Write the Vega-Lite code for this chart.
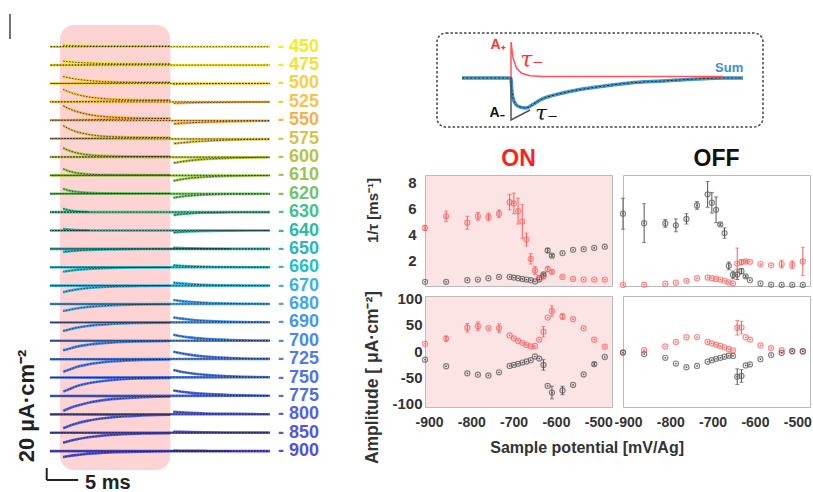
{
"$schema": "https://vega.github.io/schema/vega-lite/v6.json",
"padding": 0,
"background": "white",
"bounds": "flush",
"spacing": 105,
"resolve": {"scale": {"color": "independent"}},
"config": {"font": "Liberation Sans", "view": {"stroke": null},
  "axis": {"grid": false, "domain": false, "ticks": false, "labelOverlap": false, "labelFontSize": 14, "labelFontWeight": "bold", "labelColor": "#333", "titleFontSize": 16, "titleFontWeight": "bold", "titleColor": "#333", "labelExpr": "replace(datum.label, '−', '-')"}},
"datasets": {
"traces": [
{"mV":450,"t":-1.6,"i":0},{"mV":450,"t":0,"i":0},{"mV":450,"t":0.5,"i":2.5},{"mV":450,"t":1.2,"i":2.2},{"mV":450,"t":2.5,"i":1.7},{"mV":450,"t":4.5,"i":1.3},{"mV":450,"t":8,"i":1.0},{"mV":450,"t":13,"i":0.9},{"mV":450,"t":17.5,"i":0.8},{"mV":450,"t":18,"i":0},{"mV":450,"t":19,"i":0},{"mV":450,"t":20.5,"i":0},{"mV":450,"t":23,"i":0},{"mV":450,"t":27,"i":0},{"mV":450,"t":33.3,"i":0},
{"mV":475,"t":-1.6,"i":0},{"mV":475,"t":0,"i":0},{"mV":475,"t":0.5,"i":6.7},{"mV":475,"t":1.2,"i":5.9},{"mV":475,"t":2.5,"i":4.7},{"mV":475,"t":4.5,"i":3.5},{"mV":475,"t":8,"i":2.4},{"mV":475,"t":13,"i":1.9},{"mV":475,"t":17.5,"i":1.7},{"mV":475,"t":18,"i":0},{"mV":475,"t":19,"i":0},{"mV":475,"t":20.5,"i":0},{"mV":475,"t":23,"i":0},{"mV":475,"t":27,"i":0},{"mV":475,"t":33.3,"i":0},
{"mV":500,"t":-1.6,"i":0},{"mV":500,"t":0,"i":0},{"mV":500,"t":0.5,"i":11.7},{"mV":500,"t":1.2,"i":9.9},{"mV":500,"t":2.5,"i":7.3},{"mV":500,"t":4.5,"i":4.9},{"mV":500,"t":8,"i":2.8},{"mV":500,"t":13,"i":2.0},{"mV":500,"t":17.5,"i":1.8},{"mV":500,"t":18,"i":-1.2},{"mV":500,"t":19,"i":-0.9},{"mV":500,"t":20.5,"i":-0.6},{"mV":500,"t":23,"i":-0.3},{"mV":500,"t":27,"i":-0.1},{"mV":500,"t":33.3,"i":0},
{"mV":525,"t":-1.6,"i":0},{"mV":525,"t":0,"i":0},{"mV":525,"t":0.5,"i":20.8},{"mV":525,"t":1.2,"i":17.5},{"mV":525,"t":2.5,"i":12.8},{"mV":525,"t":4.5,"i":8.3},{"mV":525,"t":8,"i":4.6},{"mV":525,"t":13,"i":3.0},{"mV":525,"t":17.5,"i":2.7},{"mV":525,"t":18,"i":-2.5},{"mV":525,"t":19,"i":-2.1},{"mV":525,"t":20.5,"i":-1.6},{"mV":525,"t":23,"i":-1.1},{"mV":525,"t":27,"i":-0.6},{"mV":525,"t":33.3,"i":-0.2},
{"mV":550,"t":-1.6,"i":0},{"mV":550,"t":0,"i":0},{"mV":550,"t":0.5,"i":24.2},{"mV":550,"t":1.2,"i":20.3},{"mV":550,"t":2.5,"i":14.9},{"mV":550,"t":4.5,"i":9.6},{"mV":550,"t":8,"i":5.3},{"mV":550,"t":13,"i":3.4},{"mV":550,"t":17.5,"i":3.0},{"mV":550,"t":18,"i":-5.8},{"mV":550,"t":19,"i":-5.2},{"mV":550,"t":20.5,"i":-4.3},{"mV":550,"t":23,"i":-3.1},{"mV":550,"t":27,"i":-1.9},{"mV":550,"t":33.3,"i":-0.9},
{"mV":575,"t":-1.6,"i":0},{"mV":575,"t":0,"i":0},{"mV":575,"t":0.5,"i":21.7},{"mV":575,"t":1.2,"i":17.5},{"mV":575,"t":2.5,"i":11.9},{"mV":575,"t":4.5,"i":7.0},{"mV":575,"t":8,"i":3.3},{"mV":575,"t":13,"i":2.0},{"mV":575,"t":17.5,"i":1.7},{"mV":575,"t":18,"i":-8.3},{"mV":575,"t":19,"i":-7.2},{"mV":575,"t":20.5,"i":-5.8},{"mV":575,"t":23,"i":-4.1},{"mV":575,"t":27,"i":-2.3},{"mV":575,"t":33.3,"i":-0.9},
{"mV":600,"t":-1.6,"i":0},{"mV":600,"t":0,"i":0},{"mV":600,"t":0.5,"i":15},{"mV":600,"t":1.2,"i":11.6},{"mV":600,"t":2.5,"i":7.2},{"mV":600,"t":4.5,"i":3.7},{"mV":600,"t":8,"i":1.5},{"mV":600,"t":13,"i":0.9},{"mV":600,"t":17.5,"i":0.9},{"mV":600,"t":18,"i":-10},{"mV":600,"t":19,"i":-8.2},{"mV":600,"t":20.5,"i":-6.1},{"mV":600,"t":23,"i":-3.7},{"mV":600,"t":27,"i":-1.7},{"mV":600,"t":33.3,"i":-0.5},
{"mV":610,"t":-1.6,"i":0},{"mV":610,"t":0,"i":0},{"mV":610,"t":0.5,"i":10.8},{"mV":610,"t":1.2,"i":7.8},{"mV":610,"t":2.5,"i":4.3},{"mV":610,"t":4.5,"i":1.9},{"mV":610,"t":8,"i":0.8},{"mV":610,"t":13,"i":0.5},{"mV":610,"t":17.5,"i":0.5},{"mV":610,"t":18,"i":-9.2},{"mV":610,"t":19,"i":-7.1},{"mV":610,"t":20.5,"i":-4.9},{"mV":610,"t":23,"i":-2.6},{"mV":610,"t":27,"i":-1.0},{"mV":610,"t":33.3,"i":-0.2},
{"mV":620,"t":-1.6,"i":0},{"mV":620,"t":0,"i":0},{"mV":620,"t":0.5,"i":8.3},{"mV":620,"t":1.2,"i":6.0},{"mV":620,"t":2.5,"i":3.4},{"mV":620,"t":4.5,"i":1.6},{"mV":620,"t":8,"i":0.7},{"mV":620,"t":13,"i":0.5},{"mV":620,"t":17.5,"i":0.5},{"mV":620,"t":18,"i":-6.7},{"mV":620,"t":19,"i":-5.0},{"mV":620,"t":20.5,"i":-3.3},{"mV":620,"t":23,"i":-1.6},{"mV":620,"t":27,"i":-0.5},{"mV":620,"t":33.3,"i":-0.1},
{"mV":630,"t":-1.6,"i":0},{"mV":630,"t":0,"i":0},{"mV":630,"t":0.5,"i":5.8},{"mV":630,"t":1.2,"i":3.7},{"mV":630,"t":2.5,"i":1.5},{"mV":630,"t":4.5,"i":0.4},{"mV":630,"t":8,"i":0},{"mV":630,"t":13,"i":0},{"mV":630,"t":17.5,"i":0},{"mV":630,"t":18,"i":-5},{"mV":630,"t":19,"i":-3.6},{"mV":630,"t":20.5,"i":-2.2},{"mV":630,"t":23,"i":-0.9},{"mV":630,"t":27,"i":-0.3},{"mV":630,"t":33.3,"i":0},
{"mV":640,"t":-1.6,"i":0},{"mV":640,"t":0,"i":0},{"mV":640,"t":0.5,"i":2.5},{"mV":640,"t":1.2,"i":1.6},{"mV":640,"t":2.5,"i":0.7},{"mV":640,"t":4.5,"i":0.2},{"mV":640,"t":8,"i":0},{"mV":640,"t":13,"i":0},{"mV":640,"t":17.5,"i":0},{"mV":640,"t":18,"i":-3.3},{"mV":640,"t":19,"i":-2.4},{"mV":640,"t":20.5,"i":-1.5},{"mV":640,"t":23,"i":-0.6},{"mV":640,"t":27,"i":-0.2},{"mV":640,"t":33.3,"i":0},
{"mV":650,"t":-1.6,"i":0},{"mV":650,"t":0,"i":0},{"mV":650,"t":0.5,"i":-5},{"mV":650,"t":1.2,"i":-4.2},{"mV":650,"t":2.5,"i":-3.0},{"mV":650,"t":4.5,"i":-1.8},{"mV":650,"t":8,"i":-0.8},{"mV":650,"t":13,"i":-0.2},{"mV":650,"t":17.5,"i":-0.1},{"mV":650,"t":18,"i":1.7},{"mV":650,"t":19,"i":1.3},{"mV":650,"t":20.5,"i":0.9},{"mV":650,"t":23,"i":0.5},{"mV":650,"t":27,"i":0.2},{"mV":650,"t":33.3,"i":0},
{"mV":660,"t":-1.6,"i":0},{"mV":660,"t":0,"i":0},{"mV":660,"t":0.5,"i":-7.5},{"mV":660,"t":1.2,"i":-6.3},{"mV":660,"t":2.5,"i":-4.6},{"mV":660,"t":4.5,"i":-2.8},{"mV":660,"t":8,"i":-1.1},{"mV":660,"t":13,"i":-0.3},{"mV":660,"t":17.5,"i":-0.1},{"mV":660,"t":18,"i":3.3},{"mV":660,"t":19,"i":2.6},{"mV":660,"t":20.5,"i":1.8},{"mV":660,"t":23,"i":1.0},{"mV":660,"t":27,"i":0.4},{"mV":660,"t":33.3,"i":0.1},
{"mV":670,"t":-1.6,"i":0},{"mV":670,"t":0,"i":0},{"mV":670,"t":0.5,"i":-10.8},{"mV":670,"t":1.2,"i":-9.1},{"mV":670,"t":2.5,"i":-6.6},{"mV":670,"t":4.5,"i":-4.0},{"mV":670,"t":8,"i":-1.7},{"mV":670,"t":13,"i":-0.5},{"mV":670,"t":17.5,"i":-0.2},{"mV":670,"t":18,"i":5},{"mV":670,"t":19,"i":3.9},{"mV":670,"t":20.5,"i":2.7},{"mV":670,"t":23,"i":1.4},{"mV":670,"t":27,"i":0.5},{"mV":670,"t":33.3,"i":0.1},
{"mV":680,"t":-1.6,"i":0},{"mV":680,"t":0,"i":0},{"mV":680,"t":0.5,"i":-11.7},{"mV":680,"t":1.2,"i":-10.3},{"mV":680,"t":2.5,"i":-7.5},{"mV":680,"t":4.5,"i":-4.8},{"mV":680,"t":8,"i":-2.2},{"mV":680,"t":13,"i":-0.7},{"mV":680,"t":17.5,"i":-0.3},{"mV":680,"t":18,"i":6.7},{"mV":680,"t":19,"i":5.3},{"mV":680,"t":20.5,"i":3.8},{"mV":680,"t":23,"i":2.2},{"mV":680,"t":27,"i":0.9},{"mV":680,"t":33.3,"i":0.2},
{"mV":690,"t":-1.6,"i":0},{"mV":690,"t":0,"i":0},{"mV":690,"t":0.5,"i":-14.2},{"mV":690,"t":1.2,"i":-12.5},{"mV":690,"t":2.5,"i":-9.1},{"mV":690,"t":4.5,"i":-5.8},{"mV":690,"t":8,"i":-2.7},{"mV":690,"t":13,"i":-0.9},{"mV":690,"t":17.5,"i":-0.3},{"mV":690,"t":18,"i":8.3},{"mV":690,"t":19,"i":6.7},{"mV":690,"t":20.5,"i":4.8},{"mV":690,"t":23,"i":2.7},{"mV":690,"t":27,"i":1.1},{"mV":690,"t":33.3,"i":0.3},
{"mV":700,"t":-1.6,"i":0},{"mV":700,"t":0,"i":0},{"mV":700,"t":0.5,"i":-15.8},{"mV":700,"t":1.2,"i":-13.9},{"mV":700,"t":2.5,"i":-10.1},{"mV":700,"t":4.5,"i":-6.5},{"mV":700,"t":8,"i":-3.0},{"mV":700,"t":13,"i":-1.0},{"mV":700,"t":17.5,"i":-0.4},{"mV":700,"t":18,"i":10},{"mV":700,"t":19,"i":8},{"mV":700,"t":20.5,"i":5.7},{"mV":700,"t":23,"i":3.3},{"mV":700,"t":27,"i":1.4},{"mV":700,"t":33.3,"i":0.3},
{"mV":725,"t":-1.6,"i":0},{"mV":725,"t":0,"i":0},{"mV":725,"t":0.5,"i":-20.8},{"mV":725,"t":1.2,"i":-18.3},{"mV":725,"t":2.5,"i":-13.3},{"mV":725,"t":4.5,"i":-8.6},{"mV":725,"t":8,"i":-3.9},{"mV":725,"t":13,"i":-1.3},{"mV":725,"t":17.5,"i":-0.5},{"mV":725,"t":18,"i":12.5},{"mV":725,"t":19,"i":10.2},{"mV":725,"t":20.5,"i":7.6},{"mV":725,"t":23,"i":4.6},{"mV":725,"t":27,"i":2.1},{"mV":725,"t":33.3,"i":0.6},
{"mV":750,"t":-1.6,"i":0},{"mV":750,"t":0,"i":0},{"mV":750,"t":0.5,"i":-23.3},{"mV":750,"t":1.2,"i":-20.5},{"mV":750,"t":2.5,"i":-14.9},{"mV":750,"t":4.5,"i":-9.6},{"mV":750,"t":8,"i":-4.4},{"mV":750,"t":13,"i":-1.4},{"mV":750,"t":17.5,"i":-0.5},{"mV":750,"t":18,"i":12.5},{"mV":750,"t":19,"i":10.2},{"mV":750,"t":20.5,"i":7.6},{"mV":750,"t":23,"i":4.6},{"mV":750,"t":27,"i":2.1},{"mV":750,"t":33.3,"i":0.6},
{"mV":775,"t":-1.6,"i":0},{"mV":775,"t":0,"i":0},{"mV":775,"t":0.5,"i":-25},{"mV":775,"t":1.2,"i":-21.7},{"mV":775,"t":2.5,"i":-16.8},{"mV":775,"t":4.5,"i":-11.2},{"mV":775,"t":8,"i":-5.6},{"mV":775,"t":13,"i":-2.1},{"mV":775,"t":17.5,"i":-0.8},{"mV":775,"t":18,"i":9.2},{"mV":775,"t":19,"i":7.5},{"mV":775,"t":20.5,"i":5.6},{"mV":775,"t":23,"i":3.4},{"mV":775,"t":27,"i":1.5},{"mV":775,"t":33.3,"i":0.4},
{"mV":800,"t":-1.6,"i":0},{"mV":800,"t":0,"i":0},{"mV":800,"t":0.5,"i":-23.3},{"mV":800,"t":1.2,"i":-20.3},{"mV":800,"t":2.5,"i":-15.6},{"mV":800,"t":4.5,"i":-10.5},{"mV":800,"t":8,"i":-5.2},{"mV":800,"t":13,"i":-1.9},{"mV":800,"t":17.5,"i":-0.8},{"mV":800,"t":18,"i":4.2},{"mV":800,"t":19,"i":3.4},{"mV":800,"t":20.5,"i":2.5},{"mV":800,"t":23,"i":1.5},{"mV":800,"t":27,"i":0.7},{"mV":800,"t":33.3,"i":0.2},
{"mV":850,"t":-1.6,"i":0},{"mV":850,"t":0,"i":0},{"mV":850,"t":0.5,"i":-16.7},{"mV":850,"t":1.2,"i":-14.5},{"mV":850,"t":2.5,"i":-11.2},{"mV":850,"t":4.5,"i":-7.5},{"mV":850,"t":8,"i":-3.7},{"mV":850,"t":13,"i":-1.4},{"mV":850,"t":17.5,"i":-0.6},{"mV":850,"t":18,"i":1.7},{"mV":850,"t":19,"i":1.4},{"mV":850,"t":20.5,"i":1.0},{"mV":850,"t":23,"i":0.6},{"mV":850,"t":27,"i":0.3},{"mV":850,"t":33.3,"i":0.1},
{"mV":900,"t":-1.6,"i":0},{"mV":900,"t":0,"i":0},{"mV":900,"t":0.5,"i":-10},{"mV":900,"t":1.2,"i":-8.7},{"mV":900,"t":2.5,"i":-6.7},{"mV":900,"t":4.5,"i":-4.5},{"mV":900,"t":8,"i":-2.2},{"mV":900,"t":13,"i":-0.8},{"mV":900,"t":17.5,"i":-0.3},{"mV":900,"t":18,"i":0.8},{"mV":900,"t":19,"i":0.7},{"mV":900,"t":20.5,"i":0.5},{"mV":900,"t":23,"i":0.3},{"mV":900,"t":27,"i":0.1},{"mV":900,"t":33.3,"i":0}
],
"labels": [
{"mV":450,"lab":"- 450"},{"mV":475,"lab":"- 475"},{"mV":500,"lab":"- 500"},{"mV":525,"lab":"- 525"},{"mV":550,"lab":"- 550"},{"mV":575,"lab":"- 575"},{"mV":600,"lab":"- 600"},{"mV":610,"lab":"- 610"},{"mV":620,"lab":"- 620"},{"mV":630,"lab":"- 630"},{"mV":640,"lab":"- 640"},{"mV":650,"lab":"- 650"},{"mV":660,"lab":"- 660"},{"mV":670,"lab":"- 670"},{"mV":680,"lab":"- 680"},{"mV":690,"lab":"- 690"},{"mV":700,"lab":"- 700"},{"mV":725,"lab":"- 725"},{"mV":750,"lab":"- 750"},{"mV":775,"lab":"- 775"},{"mV":800,"lab":"- 800"},{"mV":850,"lab":"- 850"},{"mV":900,"lab":"- 900"}
],
"sum": [
{"u":9.6,"v":-1},{"u":22.3,"v":-1},{"u":22.6,"v":-15},{"u":23.2,"v":-25},{"u":24.3,"v":-29.5},{"u":26.2,"v":-31},{"u":27.8,"v":-28},{"u":29.9,"v":-23},{"u":35.8,"v":-16},{"u":44.7,"v":-10},{"u":53.2,"v":-6},{"u":61.8,"v":-4},{"u":70.6,"v":-2},{"u":77.4,"v":-1},{"u":82.6,"v":-1}
],
"red": [
{"k":0,"u":22.34,"v":0},{"k":1,"u":22.34,"v":35},{"k":2,"u":22.9,"v":18.7},{"k":3,"u":23.8,"v":8.7},{"k":4,"u":25.1,"v":3.7},{"k":5,"u":27.3,"v":1.3},{"k":6,"u":30.7,"v":0.4},{"k":7,"u":77.4,"v":0.4}
],
"tri": [
{"k":0,"u":22.34,"v":0},{"k":1,"u":22.34,"v":-43},{"k":2,"u":27.3,"v":-33}
],
"onTau": [
{"s":"r","x":-900,"v":4.5,"e":0.2},{"s":"r","x":-850,"v":5.4,"e":0.4},{"s":"r","x":-800,"v":4.9,"e":0.5},{"s":"r","x":-775,"v":5.4,"e":0.3},{"s":"r","x":-750,"v":5.35,"e":0.3},{"s":"r","x":-725,"v":5.6,"e":0.3},{"s":"r","x":-700,"v":6.5,"e":0.6},{"s":"r","x":-690,"v":6.4,"e":0.8},{"s":"r","x":-680,"v":5.8,"e":1.0},{"s":"r","x":-670,"v":5.0,"e":1.3},{"s":"r","x":-660,"v":3.6,"e":0.5},{"s":"r","x":-650,"v":2.1,"e":0.4},{"s":"r","x":-640,"v":1.2,"e":0.3},{"s":"r","x":-630,"v":0.65,"e":0.15},{"s":"r","x":-620,"v":0.75,"e":0.2},{"s":"r","x":-610,"v":1.3,"e":0.2},{"s":"r","x":-600,"v":1.1,"e":0.15},{"s":"r","x":-575,"v":0.7,"e":0},{"s":"r","x":-550,"v":0.55,"e":0},{"s":"r","x":-525,"v":0.5,"e":0},{"s":"r","x":-500,"v":0.5,"e":0},{"s":"r","x":-475,"v":0.5,"e":0},
{"s":"k","x":-900,"v":0.32,"e":0},{"s":"k","x":-850,"v":0.32,"e":0},{"s":"k","x":-800,"v":0.45,"e":0},{"s":"k","x":-775,"v":0.5,"e":0},{"s":"k","x":-750,"v":0.6,"e":0},{"s":"k","x":-725,"v":0.7,"e":0},{"s":"k","x":-700,"v":0.7,"e":0},{"s":"k","x":-690,"v":0.65,"e":0},{"s":"k","x":-680,"v":0.6,"e":0},{"s":"k","x":-670,"v":0.55,"e":0},{"s":"k","x":-660,"v":0.5,"e":0},{"s":"k","x":-650,"v":0.45,"e":0},{"s":"k","x":-640,"v":0.35,"e":0},{"s":"k","x":-630,"v":0.5,"e":0},{"s":"k","x":-620,"v":0.9,"e":0.1},{"s":"k","x":-610,"v":2.75,"e":0.15},{"s":"k","x":-600,"v":2.35,"e":0.1},{"s":"k","x":-575,"v":2.55,"e":0},{"s":"k","x":-550,"v":2.8,"e":0},{"s":"k","x":-525,"v":2.85,"e":0},{"s":"k","x":-500,"v":2.95,"e":0},{"s":"k","x":-475,"v":3.05,"e":0}
],
"offTau": [
{"s":"k","x":-900,"v":5.6,"e":1.2},{"s":"k","x":-850,"v":4.87,"e":1.5},{"s":"k","x":-800,"v":4.85,"e":0.3},{"s":"k","x":-775,"v":4.7,"e":0.5},{"s":"k","x":-750,"v":5.2,"e":0.4},{"s":"k","x":-725,"v":6.24,"e":0.3},{"s":"k","x":-700,"v":7.1,"e":1.0},{"s":"k","x":-690,"v":6.45,"e":0.8},{"s":"k","x":-680,"v":5.9,"e":1.0},{"s":"k","x":-670,"v":4.77,"e":0.1},{"s":"k","x":-660,"v":4.1,"e":0.4},{"s":"k","x":-650,"v":1.56,"e":0.3},{"s":"k","x":-640,"v":0.86,"e":0.3},{"s":"k","x":-630,"v":0.9,"e":0.4},{"s":"k","x":-620,"v":1.15,"e":0.2},{"s":"k","x":-610,"v":0.75,"e":0.1},{"s":"k","x":-600,"v":0.45,"e":0},{"s":"k","x":-575,"v":0.2,"e":0},{"s":"k","x":-550,"v":0.1,"e":0},{"s":"k","x":-525,"v":0.08,"e":0},{"s":"k","x":-500,"v":0.08,"e":0},{"s":"k","x":-475,"v":0.08,"e":0},
{"s":"r","x":-900,"v":0.08,"e":0},{"s":"r","x":-850,"v":0.1,"e":0},{"s":"r","x":-800,"v":0.18,"e":0},{"s":"r","x":-775,"v":0.25,"e":0},{"s":"r","x":-750,"v":0.4,"e":0},{"s":"r","x":-725,"v":0.6,"e":0},{"s":"r","x":-700,"v":0.65,"e":0},{"s":"r","x":-690,"v":0.6,"e":0},{"s":"r","x":-680,"v":0.55,"e":0},{"s":"r","x":-670,"v":0.5,"e":0},{"s":"r","x":-660,"v":0.4,"e":0},{"s":"r","x":-650,"v":0.28,"e":0},{"s":"r","x":-640,"v":0.2,"e":0},{"s":"r","x":-630,"v":1.74,"e":1.2},{"s":"r","x":-620,"v":1.85,"e":0.2},{"s":"r","x":-610,"v":1.9,"e":0.1},{"s":"r","x":-600,"v":1.87,"e":0},{"s":"r","x":-575,"v":1.7,"e":0},{"s":"r","x":-550,"v":1.6,"e":0},{"s":"r","x":-525,"v":1.7,"e":0.3},{"s":"r","x":-500,"v":1.65,"e":0.3},{"s":"r","x":-475,"v":1.9,"e":1.1}
],
"onAmp": [
{"s":"r","x":-900,"v":14,"e":0},{"s":"r","x":-850,"v":24,"e":5},{"s":"r","x":-800,"v":44.6,"e":8},{"s":"r","x":-775,"v":47.7,"e":8},{"s":"r","x":-750,"v":44,"e":0},{"s":"r","x":-725,"v":44,"e":8},{"s":"r","x":-700,"v":30,"e":0},{"s":"r","x":-690,"v":24.5,"e":0},{"s":"r","x":-680,"v":19.5,"e":0},{"s":"r","x":-670,"v":16,"e":0},{"s":"r","x":-660,"v":12,"e":0},{"s":"r","x":-650,"v":9,"e":0},{"s":"r","x":-640,"v":10,"e":0},{"s":"r","x":-630,"v":22,"e":0},{"s":"r","x":-620,"v":37,"e":10},{"s":"r","x":-610,"v":64,"e":0},{"s":"r","x":-600,"v":76.5,"e":10},{"s":"r","x":-575,"v":66,"e":5},{"s":"r","x":-550,"v":61,"e":0},{"s":"r","x":-525,"v":44,"e":0},{"s":"r","x":-500,"v":22,"e":0},{"s":"r","x":-475,"v":8.7,"e":0},
{"s":"k","x":-900,"v":-16,"e":0},{"s":"k","x":-850,"v":-28.5,"e":0},{"s":"k","x":-800,"v":-42,"e":0},{"s":"k","x":-775,"v":-44.6,"e":0},{"s":"k","x":-750,"v":-46,"e":0},{"s":"k","x":-725,"v":-40,"e":0},{"s":"k","x":-700,"v":-28,"e":0},{"s":"k","x":-690,"v":-26,"e":0},{"s":"k","x":-680,"v":-24,"e":0},{"s":"k","x":-670,"v":-21.5,"e":0},{"s":"k","x":-660,"v":-19.5,"e":0},{"s":"k","x":-650,"v":-17,"e":0},{"s":"k","x":-640,"v":-10,"e":0},{"s":"k","x":-630,"v":-14,"e":0},{"s":"k","x":-620,"v":-26,"e":10},{"s":"k","x":-610,"v":-66,"e":0},{"s":"k","x":-600,"v":-78.5,"e":12},{"s":"k","x":-575,"v":-74.6,"e":8},{"s":"k","x":-550,"v":-64,"e":0},{"s":"k","x":-525,"v":-44,"e":0},{"s":"k","x":-500,"v":-24.6,"e":3},{"s":"k","x":-475,"v":-11,"e":0}
],
"offAmp": [
{"s":"r","x":-900,"v":-2,"e":0},{"s":"r","x":-850,"v":2,"e":0},{"s":"r","x":-800,"v":9,"e":0},{"s":"r","x":-775,"v":17.6,"e":0},{"s":"r","x":-750,"v":26.6,"e":0},{"s":"r","x":-725,"v":27,"e":0},{"s":"r","x":-700,"v":17.6,"e":0},{"s":"r","x":-690,"v":15,"e":0},{"s":"r","x":-680,"v":12.5,"e":0},{"s":"r","x":-670,"v":10,"e":0},{"s":"r","x":-660,"v":7.4,"e":0},{"s":"r","x":-650,"v":4,"e":0},{"s":"r","x":-640,"v":1.6,"e":0},{"s":"r","x":-630,"v":44.6,"e":14},{"s":"r","x":-620,"v":45,"e":12},{"s":"r","x":-610,"v":26.6,"e":0},{"s":"r","x":-600,"v":22,"e":0},{"s":"r","x":-575,"v":11,"e":0},{"s":"r","x":-550,"v":6,"e":0},{"s":"r","x":-525,"v":2,"e":0},{"s":"r","x":-500,"v":0.4,"e":0},{"s":"r","x":-475,"v":-0.5,"e":0},
{"s":"k","x":-900,"v":-2.6,"e":0},{"s":"k","x":-850,"v":-5.4,"e":0},{"s":"k","x":-800,"v":-12.5,"e":0},{"s":"k","x":-775,"v":-23.4,"e":0},{"s":"k","x":-750,"v":-30.4,"e":0},{"s":"k","x":-725,"v":-28,"e":0},{"s":"k","x":-700,"v":-20,"e":0},{"s":"k","x":-690,"v":-17,"e":0},{"s":"k","x":-680,"v":-14.5,"e":0},{"s":"k","x":-670,"v":-12.5,"e":0},{"s":"k","x":-660,"v":-10.5,"e":0},{"s":"k","x":-650,"v":-8.6,"e":0},{"s":"k","x":-640,"v":-9,"e":0},{"s":"k","x":-630,"v":-48.4,"e":15},{"s":"k","x":-620,"v":-47,"e":12},{"s":"k","x":-610,"v":-27,"e":0},{"s":"k","x":-600,"v":-25,"e":0},{"s":"k","x":-575,"v":-15,"e":0},{"s":"k","x":-550,"v":-7.3,"e":0},{"s":"k","x":-525,"v":-3.3,"e":0},{"s":"k","x":-500,"v":0,"e":0},{"s":"k","x":-475,"v":0,"e":0}
]
},
"hconcat": [
{
 "width": 320, "height": 492,
 "layer": [
  {"data": {"values": [{"on": 0, "off": 17.5}]},
   "mark": {"type": "rect", "fill": "#fdd3d3", "cornerRadius": 14},
   "encoding": {"x": {"field": "on", "type": "quantitative", "scale": {"domain": [-9.524, 41.27], "nice": false, "zero": false}, "axis": null}, "x2": {"field": "off"},
     "y": {"datum": 0.949, "type": "quantitative", "scale": {"domain": [0, 1], "nice": false}, "axis": null}, "y2": {"datum": 0.0447}}},
  {"data": {"name": "traces"},
   "mark": {"type": "line", "interpolate": "monotone", "strokeWidth": 2.6},
   "encoding": {"x": {"field": "t", "type": "quantitative", "scale": {"domain": [-9.524, 41.27], "nice": false, "zero": false}},
     "y": {"field": "mV", "type": "ordinal", "sort": "ascending", "scale": {"type": "point", "padding": 0, "range": [46.7, 451.1]}, "axis": null},
     "yOffset": {"field": "i", "type": "quantitative", "scale": {"domain": [-30, 30], "range": [18, -18]}},
     "color": {"field": "mV", "type": "ordinal", "scale": {"domain": [450,475,500,525,550,575,600,610,620,630,640,650,660,670,680,690,700,725,750,775,800,850,900], "range": ["#f2ee1e","#f6e02e","#f8d03c","#f8c448","#f7b046","#d9c24c","#b8c440","#98c64e","#72c468","#45c08c","#2fb8a6","#2cb6b8","#2cbcc8","#3eb2dc","#48a6e4","#4896e8","#4a88e8","#4f7ee8","#5074e6","#526ce2","#5462e0","#5458dc","#5450d6"]}, "legend": null}}},
  {"data": {"name": "traces"},
   "mark": {"type": "line", "interpolate": "monotone", "strokeWidth": 1, "color": "#1a1a1a", "strokeDash": [1.5, 1.5], "opacity": 0.75},
   "encoding": {"x": {"field": "t", "type": "quantitative", "scale": {"domain": [-9.524, 41.27], "nice": false, "zero": false}},
     "y": {"field": "mV", "type": "ordinal", "sort": "ascending", "scale": {"type": "point", "padding": 0, "range": [46.7, 451.1]}, "axis": null},
     "yOffset": {"field": "i", "type": "quantitative", "scale": {"domain": [-30, 30], "range": [18, -18]}},
     "detail": {"field": "mV"}}},
  {"data": {"name": "labels"},
   "mark": {"type": "text", "align": "left", "baseline": "middle", "fontSize": 18, "fontWeight": "bold"},
   "encoding": {"x": {"datum": 34.6, "type": "quantitative", "scale": {"domain": [-9.524, 41.27], "nice": false, "zero": false}},
     "y": {"field": "mV", "type": "ordinal", "sort": "ascending", "scale": {"type": "point", "padding": 0, "range": [46.7, 451.1]}, "axis": null},
     "text": {"field": "lab"},
     "color": {"field": "mV", "type": "ordinal", "legend": null}}},
  {"data": {"values": [{}]}, "mark": {"type": "rule", "color": "#222", "strokeWidth": 2},
   "encoding": {"x": {"datum": -2.11, "type": "quantitative"}, "y": {"datum": 0.0488, "type": "quantitative", "scale": {"domain": [0, 1], "nice": false}, "axis": null}, "y2": {"datum": 0.0244}}},
  {"data": {"values": [{}]}, "mark": {"type": "rule", "color": "#222", "strokeWidth": 2},
   "encoding": {"x": {"datum": -2.11, "type": "quantitative"}, "x2": {"datum": 2.89}, "y": {"datum": 0.0244, "type": "quantitative", "scale": {"domain": [0, 1], "nice": false}, "axis": null}}},
  {"data": {"values": [{}]}, "mark": {"type": "rule", "color": "#444", "strokeWidth": 1.5},
   "encoding": {"x": {"datum": -7.94, "type": "quantitative"}, "y": {"datum": 0.9715, "type": "quantitative", "scale": {"domain": [0, 1], "nice": false}, "axis": null}, "y2": {"datum": 0.9207}}},
  {"data": {"values": [{}]}, "mark": {"type": "text", "text": "20 µA·cm⁻²", "angle": 270, "align": "center", "baseline": "middle", "fontSize": 22, "fontWeight": "bold", "color": "#222"},
   "encoding": {"x": {"datum": -5.2, "type": "quantitative"}, "y": {"datum": 0.1748, "type": "quantitative", "scale": {"domain": [0, 1], "nice": false}, "axis": null}}},
  {"data": {"values": [{}]}, "mark": {"type": "text", "text": "5 ms", "align": "left", "baseline": "alphabetic", "fontSize": 20, "fontWeight": "bold", "color": "#222"},
   "encoding": {"x": {"datum": 3.97, "type": "quantitative"}, "y": {"datum": 0.0061, "type": "quantitative", "scale": {"domain": [0, 1], "nice": false}, "axis": null}}}
 ],
 "resolve": {"scale": {"y": "independent"}}
},
{
 "bounds": "flush",
 "spacing": 25,
 "resolve": {"scale": {"color": "independent"}},
 "vconcat": [
  {
   "width": 385, "height": 150,
   "layer": [
    {"data": {"values": [{}]}, "mark": {"type": "rect", "fill": "white", "stroke": "#444", "strokeDash": [2.5, 2], "strokeWidth": 1.5, "cornerRadius": 9},
     "encoding": {"x": {"datum": 3.12, "type": "quantitative", "scale": {"domain": [0, 100], "nice": false}, "axis": null}, "x2": {"datum": 87.79},
       "y": {"datum": 44, "type": "quantitative", "scale": {"domain": [-73, 77], "nice": false, "zero": false}, "axis": null}, "y2": {"datum": -50}}},
    {"data": {"name": "sum"}, "mark": {"type": "line", "interpolate": "monotone", "color": "#3d8fd4", "strokeWidth": 3.5},
     "encoding": {"x": {"field": "u", "type": "quantitative"}, "y": {"field": "v", "type": "quantitative"}}},
    {"data": {"name": "sum"}, "mark": {"type": "line", "interpolate": "monotone", "color": "#8dc63f", "strokeWidth": 2, "strokeDash": [1, 3]},
     "encoding": {"x": {"field": "u", "type": "quantitative"}, "y": {"field": "v", "type": "quantitative"}}},
    {"data": {"name": "sum"}, "mark": {"type": "line", "interpolate": "monotone", "color": "#222", "strokeWidth": 1, "strokeDash": [2, 2]},
     "encoding": {"x": {"field": "u", "type": "quantitative"}, "y": {"field": "v", "type": "quantitative"}}},
    {"data": {"name": "red"}, "mark": {"type": "line", "color": "#ff5555", "strokeWidth": 1.5},
     "encoding": {"x": {"field": "u", "type": "quantitative"}, "y": {"field": "v", "type": "quantitative"}, "order": {"field": "k"}}},
    {"data": {"name": "tri"}, "mark": {"type": "line", "color": "#555", "strokeWidth": 1.5},
     "encoding": {"x": {"field": "u", "type": "quantitative"}, "y": {"field": "v", "type": "quantitative"}, "order": {"field": "k"}}},
    {"data": {"values": [{}]}, "mark": {"type": "text", "text": "A₊", "fontSize": 14, "fontWeight": "bold", "color": "#ff3333", "align": "center", "baseline": "middle"},
     "encoding": {"x": {"datum": 19.0, "type": "quantitative"}, "y": {"datum": 32, "type": "quantitative"}}},
    {"data": {"values": [{}]}, "mark": {"type": "text", "text": "τ₋", "fontSize": 22, "fontStyle": "italic", "font": "DejaVu Serif", "color": "#ff3333", "align": "center", "baseline": "middle"},
     "encoding": {"x": {"datum": 27.8, "type": "quantitative"}, "y": {"datum": 17, "type": "quantitative"}}},
    {"data": {"values": [{}]}, "mark": {"type": "text", "text": "Sum", "fontSize": 13, "fontWeight": "bold", "color": "#3d8fd4", "align": "center", "baseline": "middle"},
     "encoding": {"x": {"datum": 79, "type": "quantitative"}, "y": {"datum": 9.5, "type": "quantitative"}}},
    {"data": {"values": [{}]}, "mark": {"type": "text", "text": "A₋", "fontSize": 14, "fontWeight": "bold", "color": "#111", "align": "center", "baseline": "middle"},
     "encoding": {"x": {"datum": 18.7, "type": "quantitative"}, "y": {"datum": -36, "type": "quantitative"}}},
    {"data": {"values": [{}]}, "mark": {"type": "text", "text": "τ₋", "fontSize": 21, "fontStyle": "italic", "font": "DejaVu Serif", "color": "#111", "align": "center", "baseline": "middle"},
     "encoding": {"x": {"datum": 31.6, "type": "quantitative"}, "y": {"datum": -37, "type": "quantitative"}}}
   ]
  },
  {
   "bounds": "flush",
   "columns": 2,
   "spacing": {"row": 10, "column": 11},
   "resolve": {"scale": {"color": "independent"}},
   "title": {"text": "Sample potential [mV/Ag]", "orient": "bottom", "anchor": "middle", "fontSize": 16, "fontWeight": "bold", "color": "#333", "offset": -24},
   "concat": [
    {"width": 187, "height": 111, "data": {"name": "onTau"},
     "title": {"text": "ON", "color": "#ff1f1f", "fontSize": 23, "fontWeight": "bold", "offset": 4},
     "view": {"fill": "#fce4e4", "stroke": "#bbbbbb"},
     "layer": [
      {"transform": [{"filter": "datum.e > 0"}], "mark": {"type": "errorbar", "ticks": {"size": 4}, "thickness": 1},
       "encoding": {"x": {"field": "x", "type": "quantitative", "scale": {"domain": [-900, -458], "nice": false}, "axis": {"labels": false, "title": null}},
         "y": {"field": "v", "type": "quantitative", "scale": {"domain": [0, 8.6], "nice": false}, "axis": {"values": [2, 4, 6, 8], "labelOverlap": false, "labelFontSize": 15, "title": "1/τ [ms⁻¹]", "titleFontSize": 15, "titleX": -53, "titleY": 35, "titleAlign": "center", "titleBaseline": "middle", "titleAngle": 270, "labelPadding": 9}},
         "yError": {"field": "e"},
         "color": {"field": "s", "type": "nominal", "scale": {"domain": ["r", "k"], "range": ["#ff5a5a", "#555555"]}, "legend": null}}},
      {"mark": {"type": "point", "filled": false, "size": 26, "strokeWidth": 1.2},
       "encoding": {"x": {"field": "x", "type": "quantitative"}, "y": {"field": "v", "type": "quantitative", "axis": {"values": [2, 4, 6, 8], "labelOverlap": false}},
         "color": {"field": "s", "type": "nominal", "legend": null}}},
      {"mark": {"type": "point", "filled": true, "size": 3, "opacity": 1},
       "encoding": {"x": {"field": "x", "type": "quantitative"}, "y": {"field": "v", "type": "quantitative", "axis": {"values": [2, 4, 6, 8], "labelOverlap": false}},
         "color": {"field": "s", "type": "nominal", "legend": null}}}
     ]},
    {"width": 187, "height": 111, "data": {"name": "offTau"},
     "title": {"text": "OFF", "color": "#111", "fontSize": 23, "fontWeight": "bold", "offset": 4},
     "view": {"fill": "white", "stroke": "#bbbbbb"},
     "layer": [
      {"transform": [{"filter": "datum.e > 0"}], "mark": {"type": "errorbar", "ticks": {"size": 4}, "thickness": 1},
       "encoding": {"x": {"field": "x", "type": "quantitative", "scale": {"domain": [-900, -458], "nice": false}, "axis": {"labels": false, "title": null}},
         "y": {"field": "v", "type": "quantitative", "scale": {"domain": [0, 8.6], "nice": false}, "axis": {"values": [2, 4, 6, 8], "labels": false, "title": null}},
         "yError": {"field": "e"},
         "color": {"field": "s", "type": "nominal", "scale": {"domain": ["r", "k"], "range": ["#ff5a5a", "#555555"]}, "legend": null}}},
      {"mark": {"type": "point", "filled": false, "size": 26, "strokeWidth": 1.2},
       "encoding": {"x": {"field": "x", "type": "quantitative"}, "y": {"field": "v", "type": "quantitative"},
         "color": {"field": "s", "type": "nominal", "legend": null}}},
      {"mark": {"type": "point", "filled": true, "size": 3, "opacity": 1},
       "encoding": {"x": {"field": "x", "type": "quantitative"}, "y": {"field": "v", "type": "quantitative"},
         "color": {"field": "s", "type": "nominal", "legend": null}}}
     ]},
    {"width": 187, "height": 111, "data": {"name": "onAmp"},
     "view": {"fill": "#fce4e4", "stroke": "#bbbbbb"},
     "layer": [
      {"transform": [{"filter": "datum.e > 0"}], "mark": {"type": "errorbar", "ticks": {"size": 4}, "thickness": 1},
       "encoding": {"x": {"field": "x", "type": "quantitative", "scale": {"domain": [-900, -458], "nice": false}, "axis": {"values": [-900, -800, -700, -600, -500], "title": null, "labelPadding": 8, "labelFlush": false, "labelOffset": 4}},
         "y": {"field": "v", "type": "quantitative", "scale": {"domain": [-106, 105], "nice": false}, "axis": {"values": [-100, -50, 0, 50, 100], "labelOverlap": false, "labelFontSize": 15, "title": "Amplitude [ μA·cm⁻²]", "titleFontSize": 17.5, "titleX": -53, "titleY": 81, "titleAlign": "center", "titleBaseline": "middle", "titleAngle": 270, "labelPadding": 3}},
         "yError": {"field": "e"},
         "color": {"field": "s", "type": "nominal", "scale": {"domain": ["r", "k"], "range": ["#ff5a5a", "#555555"]}, "legend": null}}},
      {"mark": {"type": "point", "filled": false, "size": 26, "strokeWidth": 1.2},
       "encoding": {"x": {"field": "x", "type": "quantitative"}, "y": {"field": "v", "type": "quantitative", "axis": {"values": [-100, -50, 0, 50, 100], "labelOverlap": false}},
         "color": {"field": "s", "type": "nominal", "legend": null}}},
      {"mark": {"type": "point", "filled": true, "size": 3, "opacity": 1},
       "encoding": {"x": {"field": "x", "type": "quantitative"}, "y": {"field": "v", "type": "quantitative", "axis": {"values": [-100, -50, 0, 50, 100], "labelOverlap": false}},
         "color": {"field": "s", "type": "nominal", "legend": null}}}
     ]},
    {"width": 187, "height": 111, "data": {"name": "offAmp"},
     "view": {"fill": "white", "stroke": "#bbbbbb"},
     "layer": [
      {"transform": [{"filter": "datum.e > 0"}], "mark": {"type": "errorbar", "ticks": {"size": 4}, "thickness": 1},
       "encoding": {"x": {"field": "x", "type": "quantitative", "scale": {"domain": [-900, -458], "nice": false}, "axis": {"values": [-900, -800, -700, -600, -500], "title": null, "labelPadding": 8, "labelFlush": false, "labelOffset": 5}},
         "y": {"field": "v", "type": "quantitative", "scale": {"domain": [-106, 105], "nice": false}, "axis": {"values": [-100, -50, 0, 50, 100], "labels": false, "title": null}},
         "yError": {"field": "e"},
         "color": {"field": "s", "type": "nominal", "scale": {"domain": ["r", "k"], "range": ["#ff5a5a", "#555555"]}, "legend": null}}},
      {"mark": {"type": "point", "filled": false, "size": 26, "strokeWidth": 1.2},
       "encoding": {"x": {"field": "x", "type": "quantitative"}, "y": {"field": "v", "type": "quantitative"},
         "color": {"field": "s", "type": "nominal", "legend": null}}},
      {"mark": {"type": "point", "filled": true, "size": 3, "opacity": 1},
       "encoding": {"x": {"field": "x", "type": "quantitative"}, "y": {"field": "v", "type": "quantitative"},
         "color": {"field": "s", "type": "nominal", "legend": null}}}
     ]}
   ]
  }
 ]
}
]
}
